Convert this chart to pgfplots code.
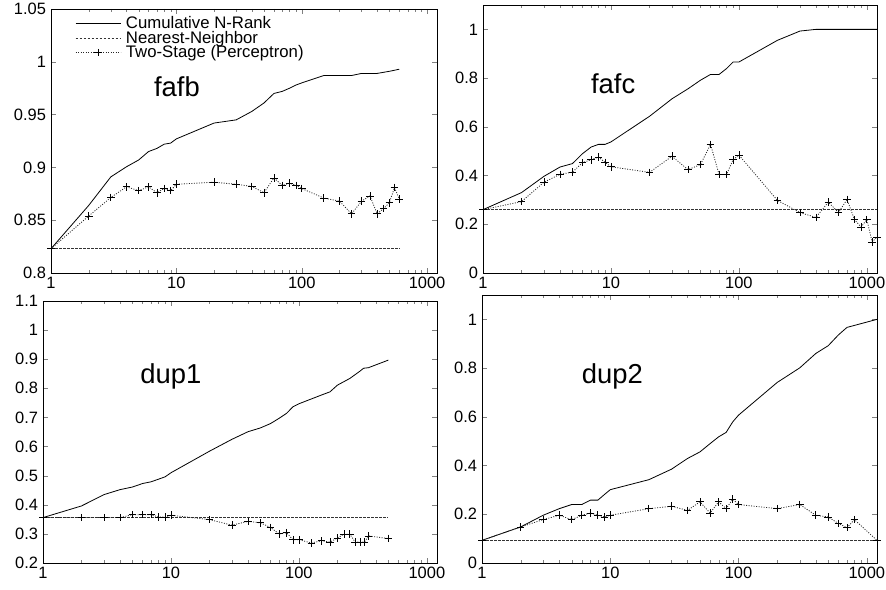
\documentclass[border=0pt]{standalone}
\usepackage{fontspec}
\setmainfont{Liberation Sans}
\usepackage{pgfplots}
\pgfplotsset{compat=1.18}

\tikzset{
  cum/.style={black, line width=0.8bp},
  nn/.style={black!80, line width=0.8bp, dash pattern=on 2.5bp off 1.5bp},
  two/.style={black!85, line width=0.8bp, dash pattern=on 1bp off 1.5bp},
}

\pgfplotsset{
  every axis/.append style={
    xmode=log, xmin=1, xmax=1200,
    scale only axis,
    anchor=south west,
    xtick={1,10,100,1000},
    xticklabels={1,10,100,1000},
    minor xtick={2,3,4,5,6,7,8,9,20,30,40,50,60,70,80,90,200,300,400,500,600,700,800,900},
    tick align=inside,
    major tick length=5bp,
    minor tick length=2.7bp,
    axis line style={black, line width=0.8bp},
    tick label style={font=\fontsize{16.5}{16.5}\selectfont},
    /pgf/number format/assume math mode=true,
    /pgf/number format/fixed,
    /pgf/number format/precision=2,
    yticklabel style={xshift=-1.5bp},
    xticklabel style={yshift=-1bp},
  },
}

\begin{document}
\begin{tikzpicture}
\useasboundingbox (0,0) rectangle (886bp,590bp);

% fafb
\begin{axis}[at={(51bp,317bp)}, width=386bp, height=264bp,
  ymin=0.8, ymax=1.05, ytick={0.8,0.85,0.9,0.95,1,1.05},
  legend style={at={(0.062,0.972)}, anchor=north west, draw=none, fill=none,
    inner sep=0pt, row sep=1bp, font=\fontsize{16.8}{16}\selectfont,
    nodes={inner ysep=0bp, inner xsep=5bp}},
  legend cell align=left,
  legend image code/.code={\draw[mark repeat=2,mark phase=2,#1] plot coordinates {(0bp,0bp) (22.5bp,0bp) (45bp,0bp)};}]
\addplot[cum, no marks] coordinates {(1,0.823)(2,0.864)(3,0.891)(4,0.9006)(5,0.907)(6,0.915)(7,0.918)(8,0.922)(9,0.923)(10,0.927)(20,0.942)(30,0.945)(40,0.953)(50,0.961)(60,0.970)(70,0.972)(80,0.975)(90,0.978)(100,0.980)(150,0.987)(200,0.987)(250,0.987)(300,0.989)(400,0.989)(500,0.991)(550,0.992)(600,0.993)};
\addlegendentry{Cumulative N-Rank}
\addplot[nn, no marks] coordinates {(1,0.823)(600,0.823)};
\addlegendentry{Nearest-Neighbor}
\addplot[two, mark=+, mark size=3.8bp, mark options={solid, black, line width=0.8bp}] coordinates {(1,0.823)(2,0.854)(3,0.8715)(4,0.8816)(5,0.878)(6,0.8816)(7,0.876)(8,0.880)(9,0.878)(10,0.884)(20,0.886)(30,0.884)(40,0.882)(50,0.876)(60,0.890)(70,0.883)(80,0.885)(90,0.883)(100,0.880)(150,0.871)(200,0.868)(250,0.856)(300,0.868)(350,0.873)(400,0.856)(450,0.861)(500,0.8665)(550,0.881)(600,0.870)};
\addlegendentry{Two-Stage (Perceptron)}
\node[font=\fontsize{27.5}{27.5}\selectfont] at (axis cs:10.1,0.976) {fafb};
\end{axis}

% fafc
\begin{axis}[at={(483bp,317bp)}, width=394bp, height=268bp,
  ymin=0, ymax=1.1, ytick={0,0.2,0.4,0.6,0.8,1}]
\addplot[cum, no marks] coordinates {(1,0.26)(2,0.33)(3,0.397)(4,0.435)(5,0.449)(6,0.49)(7,0.517)(8,0.528)(9,0.528)(10,0.538)(20,0.643)(30,0.715)(40,0.756)(50,0.791)(60,0.815)(70,0.815)(80,0.839)(90,0.866)(100,0.866)(200,0.955)(300,0.993)(400,1.0)(1200,1.0)};
\addplot[nn, no marks] coordinates {(1,0.26)(1200,0.26)};
\addplot[two, mark=+, mark size=3.8bp, mark options={solid, black, line width=0.8bp}] coordinates {(1,0.26)(2,0.293)(3,0.373)(4,0.405)(5,0.414)(6,0.453)(7,0.465)(8,0.476)(9,0.454)(10,0.436)(20,0.413)(30,0.479)(40,0.424)(50,0.445)(60,0.528)(70,0.404)(80,0.404)(90,0.465)(100,0.484)(200,0.298)(300,0.248)(400,0.228)(500,0.291)(600,0.248)(700,0.302)(800,0.219)(900,0.189)(1000,0.219)(1100,0.127)(1200,0.148)};
\node[font=\fontsize{27.5}{27.5}\selectfont] at (axis cs:10.4,0.777) {fafc};
\end{axis}

% dup1
\begin{axis}[at={(43bp,27bp)}, width=394bp, height=262bp,
  ymin=0.2, ymax=1.1, ytick={0.2,0.3,0.4,0.5,0.6,0.7,0.8,0.9,1,1.1}]
\addplot[cum, no marks] coordinates {(1,0.356)(2,0.396)(3,0.435)(4,0.452)(5,0.461)(6,0.473)(7,0.479)(8,0.488)(9,0.496)(10,0.51)(20,0.584)(30,0.625)(40,0.651)(50,0.664)(60,0.679)(70,0.697)(80,0.714)(90,0.737)(100,0.747)(150,0.777)(175,0.788)(200,0.811)(250,0.834)(300,0.859)(320,0.869)(350,0.871)(500,0.897)};
\addplot[nn, no marks] coordinates {(1,0.356)(500,0.356)};
\addplot[two, mark=+, mark size=3.8bp, mark options={solid, black, line width=0.8bp}] coordinates {(1,0.356)(2,0.356)(3,0.356)(4,0.356)(5,0.366)(6,0.366)(7,0.366)(8,0.358)(9,0.358)(10,0.364)(20,0.349)(30,0.330)(40,0.343)(50,0.338)(60,0.322)(70,0.300)(80,0.304)(90,0.280)(100,0.280)(125,0.269)(150,0.276)(175,0.272)(200,0.286)(225,0.299)(250,0.299)(275,0.272)(300,0.272)(325,0.272)(350,0.293)(500,0.284)};
\node[font=\fontsize{27.5}{27.5}\selectfont] at (axis cs:10,0.84) {dup1};
\end{axis}

% dup2
\begin{axis}[at={(482bp,27bp)}, width=395bp, height=268bp,
  ymin=0, ymax=1.1, ytick={0,0.2,0.4,0.6,0.8,1}]
\addplot[cum, no marks] coordinates {(1,0.093)(2,0.148)(3,0.196)(4,0.223)(5,0.240)(6,0.240)(7,0.258)(8,0.258)(9,0.281)(10,0.301)(20,0.342)(30,0.385)(40,0.429)(50,0.456)(60,0.490)(70,0.518)(80,0.536)(90,0.579)(100,0.607)(200,0.741)(300,0.801)(400,0.860)(500,0.892)(600,0.936)(700,0.967)(1200,1.0)};
\addplot[nn, no marks] coordinates {(1,0.093)(1200,0.093)};
\addplot[two, mark=+, mark size=3.8bp, mark options={solid, black, line width=0.8bp}] coordinates {(1,0.093)(2,0.148)(3,0.178)(4,0.196)(5,0.178)(6,0.196)(7,0.205)(8,0.196)(9,0.189)(10,0.196)(20,0.223)(30,0.233)(40,0.216)(50,0.251)(60,0.205)(70,0.251)(80,0.223)(90,0.262)(100,0.240)(200,0.223)(300,0.240)(400,0.196)(500,0.189)(600,0.162)(700,0.145)(800,0.178)(1200,0.093)};
\node[font=\fontsize{27.5}{27.5}\selectfont] at (axis cs:10.4,0.764) {dup2};
\end{axis}
\end{tikzpicture}
\end{document}
